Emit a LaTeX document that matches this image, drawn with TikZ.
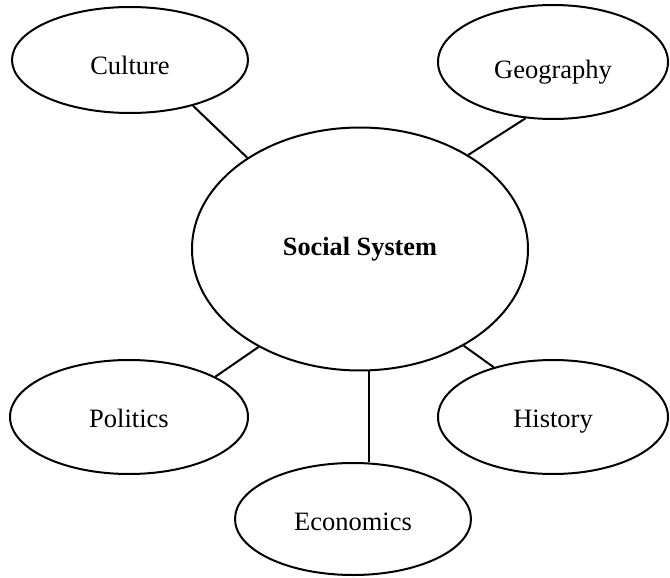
\documentclass[tikz,border=0pt]{standalone}
\usepackage{fontspec}
\setmainfont{Liberation Serif}
\usetikzlibrary{shapes.geometric}
\begin{document}
\begin{tikzpicture}[x=1pt,y=-1pt,
  topic/.style={draw=black, line width=2pt, ellipse, inner sep=0pt, text depth=0pt,
    font=\fontsize{26.5}{30}\selectfont},
  link/.style={draw=black, line width=2pt}]
\useasboundingbox[fill=white] (0,0) rectangle (670,578);
\node[topic, minimum width=336pt, minimum height=243pt, text height=12pt, font=\fontsize{26.3}{30}\selectfont\bfseries] (soc) at (360,249) {Social System};
\node[topic, minimum width=236pt, minimum height=106pt, text height=30pt] (cul) at (130,60) {Culture};
\node[topic, minimum width=230pt, minimum height=114pt, text height=32pt] (geo) at (553,62) {Geography};
\node[topic, minimum width=238pt, minimum height=114pt, text height=20pt] (pol) at (129,417) {Politics};
\node[topic, minimum width=230pt, minimum height=114pt, text height=20pt] (his) at (553,417) {History};
\node[topic, minimum width=236pt, minimum height=112pt, text height=22pt] (eco) at (353,519) {Economics};
\draw[link] (soc.141) -- (cul.-36);
\draw[link] (soc.41) -- (geo.-116);
\draw[link] (soc.224) -- (pol.25.6);
\draw[link] (soc.-43) -- (his.140);
\draw[link] (soc.-86.7) -- (soc.-86.7 |- eco.north);
\end{tikzpicture}
\end{document}
